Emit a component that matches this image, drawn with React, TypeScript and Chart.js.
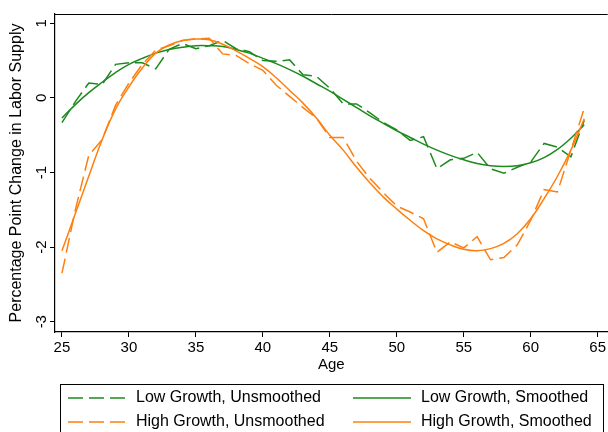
import React, { useEffect, useRef } from "react";
import { Chart, registerables } from "chart.js";
Chart.register(...registerables);

const ages = [25, 26, 27, 28, 29, 30, 31, 32, 33, 34, 35, 36, 37, 38, 39, 40, 41, 42, 43, 44, 45, 46, 47, 48, 49, 50, 51, 52, 53, 54, 55, 56, 57, 58, 59, 60, 61, 62, 63, 64];

const lowUnsmoothed = [-0.33, -0.05, 0.2, 0.18, 0.45, 0.47, 0.47, 0.39, 0.65, 0.73, 0.66, 0.7, 0.77, 0.66, 0.62, 0.5, 0.49, 0.51, 0.31, 0.29, 0.13, -0.08, -0.08, -0.2, -0.33, -0.43, -0.57, -0.52, -0.95, -0.83, -0.81, -0.73, -0.95, -1.01, -0.93, -0.86, -0.61, -0.66, -0.79, -0.3];
const lowSmoothed = [-0.27, -0.09, 0.07, 0.21, 0.34, 0.45, 0.53, 0.6, 0.65, 0.68, 0.7, 0.7, 0.69, 0.65, 0.6, 0.53, 0.46, 0.38, 0.29, 0.19, 0.09, -0.02, -0.13, -0.24, -0.34, -0.44, -0.53, -0.62, -0.7, -0.77, -0.83, -0.88, -0.91, -0.92, -0.91, -0.87, -0.8, -0.69, -0.54, -0.36];
const highUnsmoothed = [-2.35, -1.5, -0.77, -0.56, -0.1, 0.2, 0.45, 0.64, 0.7, 0.77, 0.79, 0.8, 0.59, 0.57, 0.46, 0.37, 0.17, 0.02, -0.13, -0.27, -0.53, -0.53, -0.85, -1.08, -1.27, -1.45, -1.53, -1.62, -2.07, -1.93, -2.01, -1.86, -2.17, -2.14, -1.97, -1.64, -1.23, -1.26, -0.7, -0.14];
const highSmoothed = [-2.05, -1.55, -1.05, -0.56, -0.15, 0.15, 0.4, 0.6, 0.71, 0.77, 0.79, 0.78, 0.72, 0.63, 0.53, 0.42, 0.27, 0.1, -0.07, -0.27, -0.5, -0.7, -0.93, -1.14, -1.33, -1.49, -1.64, -1.78, -1.89, -1.97, -2.03, -2.05, -2.02, -1.95, -1.82, -1.62, -1.35, -1.05, -0.7, -0.28];

const xTicks = [25, 30, 35, 40, 45, 50, 55, 60, 65];
const yTicks = [1, 0, -1, -2, -3];

const seriesLabels = [
  "Low Growth, Unsmoothed",
  "Low Growth, Smoothed",
  "High Growth, Unsmoothed",
  "High Growth, Smoothed",
];
const xTitle = "Age";
const yTitle = "Percentage Point Change in Labor Supply";

const GREEN = "rgb(28,138,28)";
const ORANGE = "rgb(255,127,14)";
const FONT = "'Liberation Sans', Arial, sans-serif";
const DASH = [15, 6];

const toPoints = (vals: number[]) => ages.map((a, i) => ({ x: a, y: vals[i] }));

export default function App() {
  const ref = useRef<HTMLCanvasElement>(null);
  useEffect(() => {
    if (!ref.current) return;
    const overlay = {
      id: "overlay",
      afterDraw(chart: any) {
        const { ctx, chartArea: a, scales } = chart;
        ctx.save();
        ctx.strokeStyle = "#000";
        ctx.lineWidth = 1;
        ctx.beginPath();
        ctx.moveTo(a.left, Math.round(a.top) + 0.5);
        ctx.lineTo(a.right, Math.round(a.top) + 0.5);
        ctx.stroke();
        ctx.fillStyle = "#000";
        ctx.font = `15px ${FONT}`;
        for (const v of yTicks) {
          const y = scales.y.getPixelForValue(v);
          ctx.save();
          ctx.translate(a.left - 9, y);
          ctx.rotate(-Math.PI / 2);
          ctx.textAlign = "center";
          ctx.textBaseline = "alphabetic";
          ctx.fillText(String(v), 0, 0);
          ctx.restore();
        }
        ctx.font = `16px ${FONT}`;
        ctx.save();
        ctx.translate(17, (a.top + a.bottom) / 2);
        ctx.rotate(-Math.PI / 2);
        ctx.textAlign = "center";
        ctx.textBaseline = "middle";
        ctx.fillText(yTitle, 0, 0);
        ctx.restore();
        ctx.font = `15px ${FONT}`;
        ctx.textAlign = "center";
        ctx.textBaseline = "middle";
        ctx.fillText(xTitle, (a.left + a.right) / 2, 365);
        ctx.lineWidth = 1;
        ctx.strokeRect(60.5, 384.5, 543, 60);
        ctx.font = `16px ${FONT}`;
        const items = [
          { label: seriesLabels[0], color: GREEN, dash: DASH, x: 68, y: 398 },
          { label: seriesLabels[1], color: GREEN, dash: [], x: 353, y: 398 },
          { label: seriesLabels[2], color: ORANGE, dash: DASH, x: 68, y: 422 },
          { label: seriesLabels[3], color: ORANGE, dash: [], x: 353, y: 422 },
        ];
        for (const it of items) {
          ctx.save();
          ctx.strokeStyle = it.color;
          ctx.lineWidth = 1.5;
          ctx.setLineDash(it.dash);
          ctx.beginPath();
          ctx.moveTo(it.x, it.y);
          ctx.lineTo(it.x + 58, it.y);
          ctx.stroke();
          ctx.restore();
          ctx.textAlign = "left";
          ctx.textBaseline = "middle";
          ctx.fillStyle = "#000";
          ctx.fillText(it.label, it.x + 68, it.y);
        }
        ctx.restore();
      },
    };

    const chart = new Chart(ref.current, {
      type: "line",
      data: {
        datasets: [
          { label: seriesLabels[0], data: toPoints(lowUnsmoothed), borderColor: GREEN, borderWidth: 1.5, borderDash: DASH, pointRadius: 0, tension: 0, order: 4 },
          { label: seriesLabels[1], data: toPoints(lowSmoothed), borderColor: GREEN, borderWidth: 1.5, pointRadius: 0, tension: 0.4, order: 3 },
          { label: seriesLabels[2], data: toPoints(highUnsmoothed), borderColor: ORANGE, borderWidth: 1.5, borderDash: DASH, pointRadius: 0, tension: 0, order: 2 },
          { label: seriesLabels[3], data: toPoints(highSmoothed), borderColor: ORANGE, borderWidth: 1.5, pointRadius: 0, tension: 0.4, order: 1 },
        ],
      },
      options: {
        responsive: false,
        animation: false,
        layout: { padding: { top: 14, right: 0, left: 0, bottom: 0 } },
        plugins: { legend: { display: false }, tooltip: { enabled: false } },
        scales: {
          x: {
            type: "linear",
            min: 24.48,
            max: 65.75,
            afterBuildTicks: (s: any) => { s.ticks = xTicks.map((v) => ({ value: v })); },
            afterFit: (s: any) => { s.height = 100; },
            grid: { display: true, drawOnChartArea: false, drawTicks: true, tickLength: 5, color: "#000" },
            border: { display: true, color: "#000", width: 1.2 },
            ticks: { color: "#000", font: { family: FONT, size: 15 }, padding: 2, maxRotation: 0, autoSkip: false },
          },
          y: {
            type: "linear",
            min: -3.138,
            max: 1.125,
            afterBuildTicks: (s: any) => { s.ticks = yTicks.map((v) => ({ value: v })); },
            afterFit: (s: any) => { s.width = 55; },
            grid: { display: true, drawOnChartArea: false, drawTicks: true, tickLength: 5, color: "#000" },
            border: { display: true, color: "#000", width: 1.2 },
            ticks: { display: false },
          },
        },
      },
      plugins: [overlay],
    } as any);
    return () => chart.destroy();
  }, []);

  return (
    <div style={{ position: "absolute", left: 0, top: 0, width: 608, height: 432, background: "#fff" }}>
      <canvas ref={ref} width={608} height={432} style={{ display: "block" }} />
    </div>
  );
}
